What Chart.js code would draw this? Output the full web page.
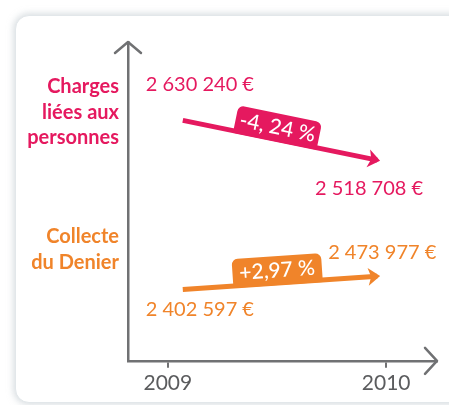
<!DOCTYPE html>
<html>
<head>
<meta charset="utf-8">
<script src="https://cdn.jsdelivr.net/npm/chart.js@4"></script>
<style>
  html, body { margin: 0; padding: 0; background: #fff; }
  #wrap { position: relative; width: 449px; height: 405px; overflow: hidden; }
  #card {
    position: absolute; left: 15px; top: 15px; width: 470px; height: 386px;
    background: #fff; border-radius: 14px;
    border: 1px solid #e2e7ea;
    box-shadow: 0 0 6px 2px rgba(190, 198, 204, 0.55);
  }
  #chart { position: absolute; left: 0; top: 0; }
</style>
</head>
<body>
<div id="wrap">
  <div id="card"></div>
  <canvas id="chart" width="449" height="405"></canvas>
</div>
<script>
// data
var years = [2009, 2010];
var categories = [['Charges', 'liées aux', 'personnes'], ['Collecte', 'du Denier']];
var charges = [2630240, 2518708];
var collecte = [2402597, 2473977];
var variations = ['-4, 24 %', '+2,97 %'];

var pink = '#e5195f';
var orange = '#f0842a';
var grey = '#707173';
var font = 'Lato, "DejaVu Sans", sans-serif';

function euros(n) {
  return n.toString().replace(/\B(?=(\d{3})+(?!\d))/g, ' ') + ' €';
}

function points(values) {
  return years.map(function (y, i) { return { x: y, y: values[i] }; });
}

// arrows, badges, value labels and category names
var annotate = {
  id: 'annotate',
  afterDraw: function (chart) {
    var c = chart.ctx, a = chart.chartArea;
    c.save();

    // axis arrow heads
    c.strokeStyle = grey;
    c.lineWidth = 2.5;
    c.lineCap = 'round';
    c.lineJoin = 'round';
    c.beginPath();
    c.moveTo(a.left - 13, a.top + 11);
    c.lineTo(a.left, a.top);
    c.lineTo(a.left + 13, a.top + 11);
    c.moveTo(a.right - 12, a.bottom - 13);
    c.lineTo(a.right, a.bottom);
    c.lineTo(a.right - 12, a.bottom + 13);
    c.stroke();

    var colors = [pink, orange];
    var badgeH = [28, 29];
    chart.data.datasets.forEach(function (ds, i) {
      var pts = chart.getDatasetMeta(i).data;
      var p0 = pts[0], p1 = pts[1];
      var ang = Math.atan2(p1.y - p0.y, p1.x - p0.x);
      var len = Math.hypot(p1.x - p0.x, p1.y - p0.y);

      // arrow head on the series line
      c.save();
      c.translate(p1.x, p1.y);
      c.rotate(ang);
      c.fillStyle = colors[i];
      c.beginPath();
      c.moveTo(3, 0);
      c.lineTo(-9, -9);
      c.lineTo(-6, 0);
      c.lineTo(-9, 9);
      c.closePath();
      c.fill();
      c.restore();

      // variation badge sitting on the line
      c.save();
      c.translate(p0.x, p0.y);
      c.rotate(ang);
      var bx = len * 0.26, bw = len * (i === 0 ? 0.43 : 0.46), bh = badgeH[i];
      c.fillStyle = colors[i];
      c.beginPath();
      c.roundRect(bx, -bh + 2, bw, bh, [6, 6, 0, 0]);
      c.fill();
      c.fillStyle = '#fff';
      c.font = '500 21px ' + font;
      c.textAlign = 'center';
      c.textBaseline = 'middle';
      c.fillText(variations[i], bx + bw / 2, -bh / 2 + 2);
      c.restore();
    });

    // value labels
    c.font = '20px ' + font;
    c.textBaseline = 'middle';
    var pm = chart.getDatasetMeta(0).data, om = chart.getDatasetMeta(1).data;
    c.fillStyle = pink;
    c.textAlign = 'left';
    c.fillText(euros(charges[0]), pm[0].x - 37, pm[0].y - 36);
    c.textAlign = 'right';
    c.fillText(euros(charges[1]), pm[1].x + 46, pm[1].y + 28);
    c.fillStyle = orange;
    c.textAlign = 'left';
    c.fillText(euros(collecte[0]), om[0].x - 37, om[0].y + 20);
    c.fillText(euros(collecte[1]), om[1].x - 49, om[1].y - 24);

    // category names left of the axis
    c.font = 'bold 20px ' + font;
    c.textAlign = 'right';
    var tops = [87, 237];
    categories.forEach(function (lines, i) {
      c.fillStyle = colors[i];
      lines.forEach(function (t, j) {
        c.fillText(t, a.left - 9, tops[i] + j * 25.5);
      });
    });
    c.restore();
  }
};

new Chart(document.getElementById('chart'), {
  type: 'line',
  data: {
    datasets: [
      { label: 'Charges liées aux personnes', data: points(charges), xAxisID: 'xs', yAxisID: 'y',
        borderColor: pink, borderWidth: 5, pointRadius: 0, tension: 0 },
      { label: 'Collecte du Denier', data: points(collecte), xAxisID: 'xs', yAxisID: 'y2',
        borderColor: orange, borderWidth: 5, pointRadius: 0, tension: 0 }
    ]
  },
  options: {
    responsive: false,
    animation: false,
    layout: { padding: { left: 128, top: 42, right: 12, bottom: 6 } },
    plugins: { legend: { display: false }, tooltip: { enabled: false } },
    scales: {
      x: {
        type: 'linear', min: 2008.8174, max: 2010.2328,
        afterBuildTicks: function (s) { s.ticks = years.map(function (v) { return { value: v }; }); },
        grid: { drawOnChartArea: false, drawTicks: true, tickLength: 7, color: grey, lineWidth: 2 },
        border: { color: grey, width: 2.5 },
        ticks: { color: '#5b5c5e', font: { family: font, size: 21 }, padding: 3,
          callback: function (v) { return String(v); } }
      },
      xs: { type: 'linear', display: false, min: 2008.718, max: 2010.308 },
      y: {
        min: 1955320, max: 2850440,
        ticks: { display: false },
        grid: { drawOnChartArea: false, drawTicks: false },
        border: { color: grey, width: 2.5 }
      },
      y2: { display: false, min: 2018930, max: 3734795 }
    }
  },
  plugins: [annotate]
});
</script>
</body>
</html>
